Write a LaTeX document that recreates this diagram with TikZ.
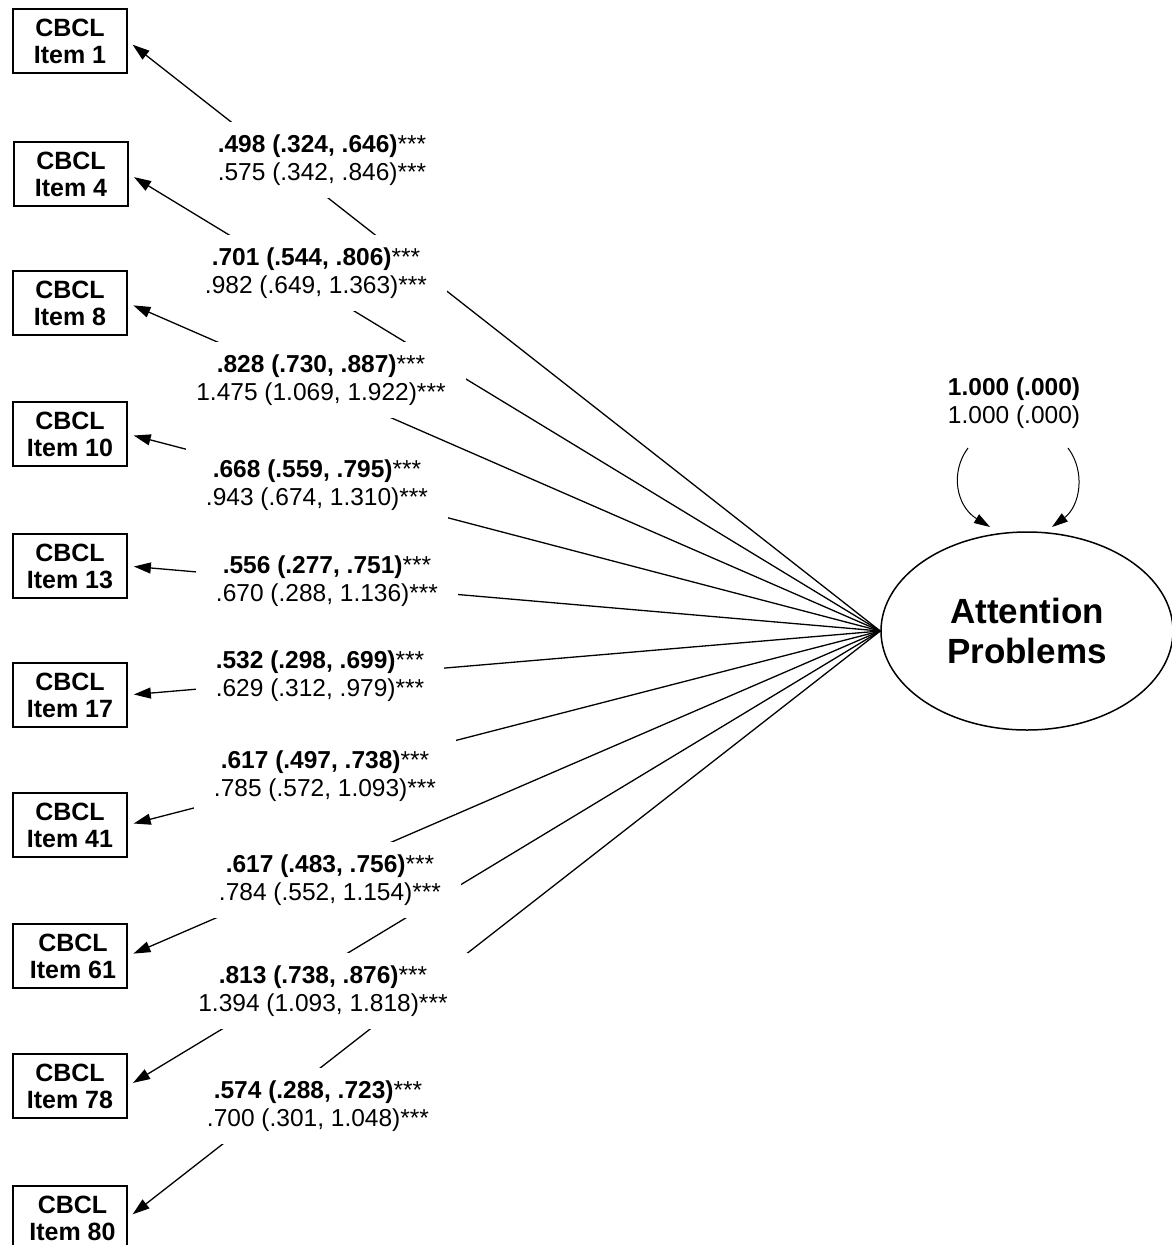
\documentclass[tikz,border=0pt]{standalone}
\usepackage{fontspec}
\setmainfont{Liberation Sans}
\usetikzlibrary{shapes.geometric,arrows.meta}
\newcommand{\stars}{{\mdseries ***}}
\begin{document}
\begin{tikzpicture}[x=1pt,y=-1pt,
  itembox/.style={draw, line width=1.8pt, minimum width=114pt, minimum height=64pt, inner sep=0pt, align=center, font=\fontsize{25}{27}\selectfont\bfseries},
  lab/.style={fill=white, inner xsep=20pt, inner ysep=13pt, align=center, font=\fontsize{24.5}{28}\selectfont},
  conn/.style={line width=1.3pt, -{Triangle[length=17pt,width=11pt]}, shorten >=6pt},
  varc/.style={line width=1pt, -{Triangle[length=16pt,width=10pt]}}]
\useasboundingbox[fill=white] (0,0) rectangle (1172,1245);

\node[itembox] (i1) at (70,41) {CBCL\\Item 1};
\node[itembox] (i4) at (71,174) {CBCL\\Item 4};
\node[itembox] (i8) at (70,303) {CBCL\\Item 8};
\node[itembox] (i10) at (70,434) {CBCL\\Item 10};
\node[itembox] (i13) at (70,566) {CBCL\\Item 13};
\node[itembox] (i17) at (70,695) {CBCL\\Item 17};
\node[itembox] (i41) at (70,825) {CBCL\\Item 41};
\node[itembox] (i61) at (70,956) {\hspace*{6pt}CBCL\\\hspace*{6pt}Item 61};
\node[itembox] (i78) at (70,1086) {CBCL\\Item 78};
\node[itembox] (i80) at (70,1218) {\hspace*{5pt}CBCL\\\hspace*{5pt}Item 80};

\node[ellipse, draw, line width=1.5pt, minimum width=292pt, minimum height=198pt, inner sep=0pt, align=center, font=\fontsize{35}{40}\selectfont\bfseries] (ap) at (1027,631) {Attention\\Problems};

\foreach \t in {i1,i4,i8,i10,i13,i17,i41,i61,i78,i80}
  \draw[conn] (ap.west) -- (\t.east);

\node[lab] (l1) at (322,160) {{\bfseries .498 (.324, .646)\stars}\\.575 (.342, .846)\stars};
\node[lab] (l2) at (316,273) {{\bfseries .701 (.544, .806)\stars}\\.982 (.649, 1.363)\stars};
\node[lab] (l3) at (321,380) {{\bfseries .828 (.730, .887)\stars}\\1.475 (1.069, 1.922)\stars};
\node[lab] (l4) at (317,485) {{\bfseries .668 (.559, .795)\stars}\\.943 (.674, 1.310)\stars};
\node[lab] (l5) at (327,581) {{\bfseries .556 (.277, .751)\stars}\\.670 (.288, 1.136)\stars};
\node[lab] (l6) at (320,676) {{\bfseries .532 (.298, .699)\stars}\\.629 (.312, .979)\stars};
\node[lab] (l7) at (325,776) {{\bfseries .617 (.497, .738)\stars}\\.785 (.572, 1.093)\stars};
\node[lab] (l8) at (330,880) {{\bfseries .617 (.483, .756)\stars}\\.784 (.552, 1.154)\stars};
\node[lab] (l9) at (323,991) {{\bfseries .813 (.738, .876)\stars}\\1.394 (1.093, 1.818)\stars};
\node[lab] (l10) at (318,1106) {{\bfseries .574 (.288, .723)\stars}\\.700 (.301, 1.048)\stars};

\node[align=center, font=\fontsize{24.5}{28}\selectfont] (var) at (1014,403) {{\bfseries 1.000 (.000)}\\1.000 (.000)};
\coordinate (vl) at (968,448);
\coordinate (vr) at (1068,448);
\coordinate (tl) at (990,527);
\coordinate (tr) at (1052,527);
\draw[varc] (vl) .. controls (950,472) and (956,506) .. (tl);
\draw[varc] (vr) .. controls (1086,472) and (1080,506) .. (tr);
\end{tikzpicture}
\end{document}
